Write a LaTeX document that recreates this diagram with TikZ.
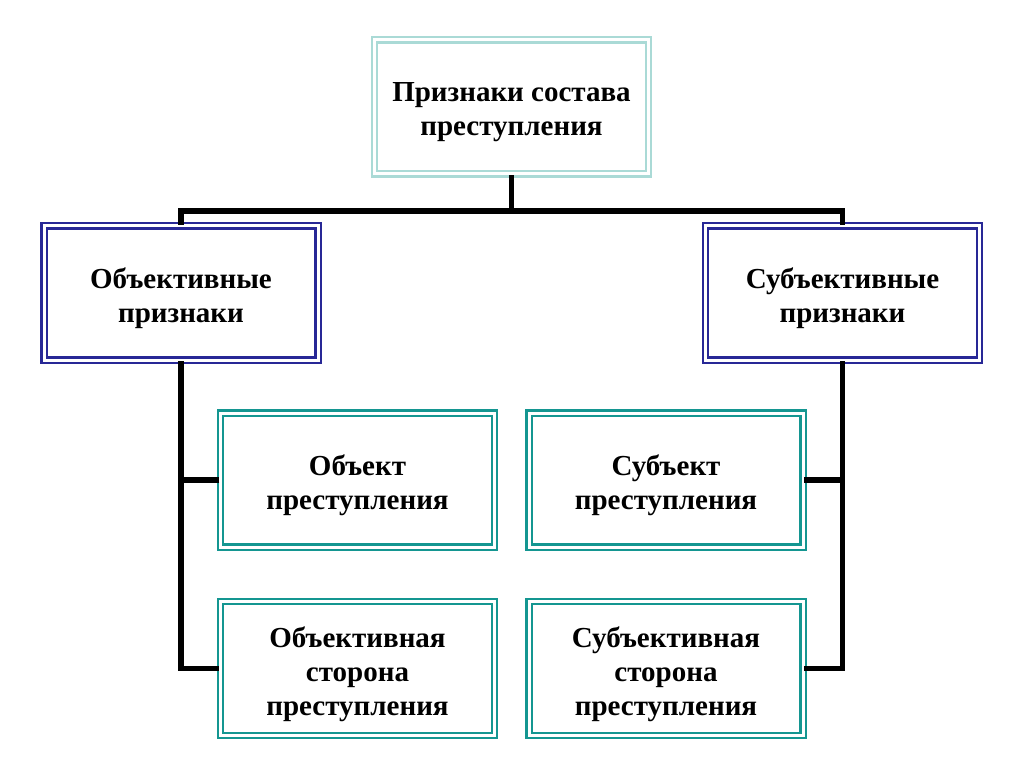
\documentclass[tikz,border=0pt]{standalone}
\usepackage{fontspec}
\setmainfont{Liberation Serif}
\definecolor{paleteal}{RGB}{170,218,214}
\definecolor{darkteal}{RGB}{20,150,145}
\definecolor{navy}{RGB}{40,40,150}
\begin{document}
\begin{tikzpicture}
[x=1pt,y=-1pt,%
  box/.style={rectangle,draw,line width=2.2pt,double=white,double distance=3pt,%
    minimum width=274pt,minimum height=134pt,inner sep=0pt},%
  boxtext/.style={align=center,font=\fontsize{29}{34}\selectfont\bfseries,yshift=-5.5pt},%
  topbox/.style={box,draw=paleteal},%
  midbox/.style={box,draw=navy},%
  lowbox/.style={box,draw=darkteal},%
  link/.style={line width=5.5pt,black}]
\useasboundingbox (0,0) rectangle (1024,767);
\node[topbox,label={[boxtext]center:Признаки состава\\преступления}] (sostav) at (511.5,107) {};
\node[midbox,label={[boxtext]center:Объективные\\признаки}] (obj) at (181,293) {};
\node[midbox,label={[boxtext]center:Субъективные\\признаки}] (subj) at (842.5,293) {};
\node[lowbox,label={[boxtext]center:Объект\\преступления}] (objekt) at (357.5,480) {};
\node[lowbox,label={[boxtext]center:Объективная\\сторона\\преступления}] (objstor) at (357.5,668.5) {};
\node[lowbox,label={[boxtext]center:Субъект\\преступления}] (subjekt) at (666,480) {};
\node[lowbox,label={[boxtext]center:Субъективная\\сторона\\преступления}] (subjstor) at (666,668.5) {};
% links
\draw[link] (sostav.south) -- ++(0,36) -| (obj.north);
\draw[link] (sostav.south) ++(0,36) -| (subj.north);
\draw[link] (obj.south) |- (objstor.west);
\draw[link] (objekt.west) -- (objekt.west -| obj.south);
\draw[link] (subj.south) |- (subjstor.east);
\draw[link] (subjekt.east) -- (subjekt.east -| subj.south);
\end{tikzpicture}
\end{document}
